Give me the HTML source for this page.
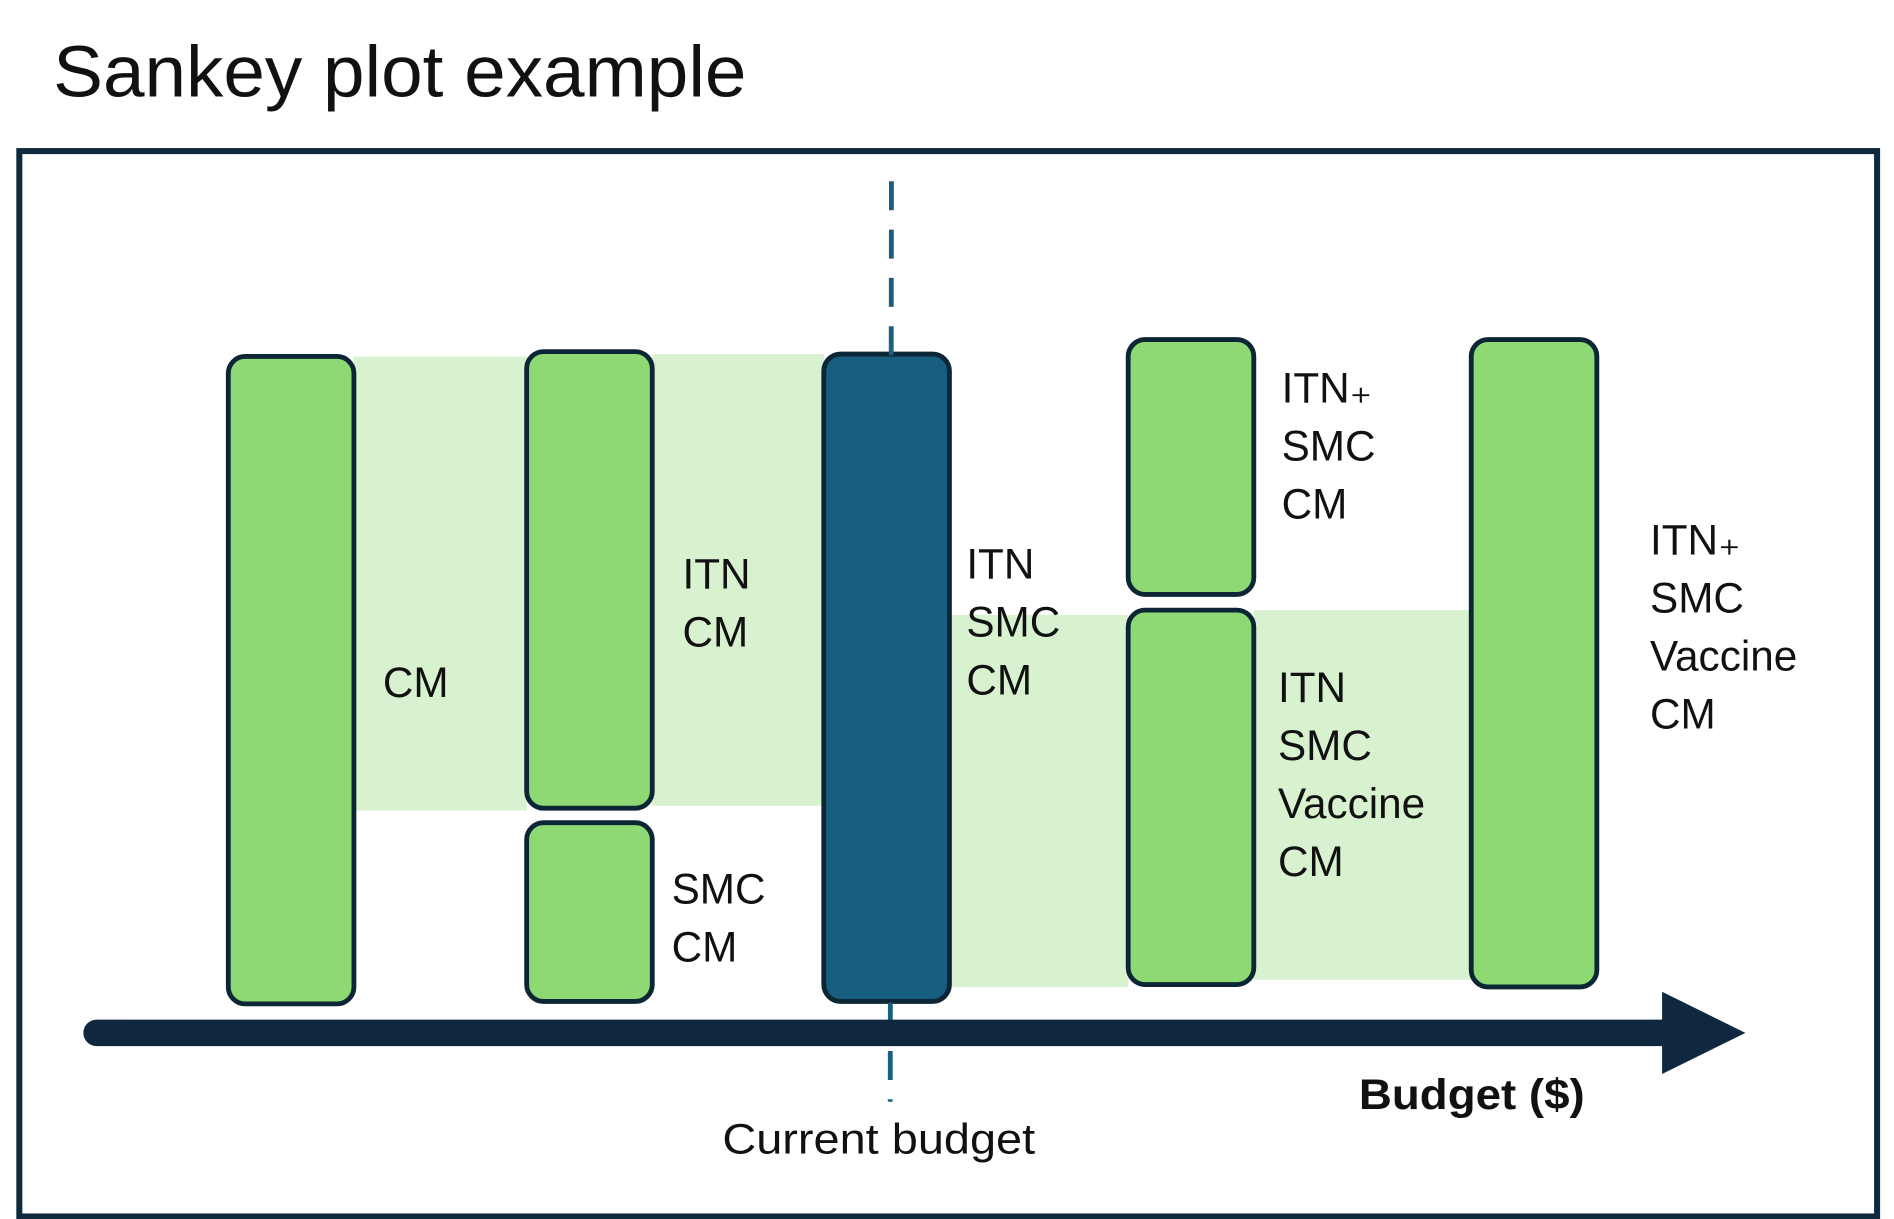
<!DOCTYPE html>
<html><head><meta charset="utf-8"><style>
html,body{margin:0;padding:0;background:#fff;width:1894px;height:1219px;overflow:hidden}
svg text{font-family:"Liberation Sans",sans-serif}
</style></head><body>
<svg id="chart" width="1894" height="1219" viewBox="0 0 1568 1009" xmlns="http://www.w3.org/2000/svg">
<text x="44" y="80" font-size="60" textLength="574" lengthAdjust="spacingAndGlyphs" fill="#111" style="font-family:'Liberation Sans Narrow','Liberation Sans',sans-serif">Sankey plot example</text>
<rect x="16" y="125" width="1538" height="882" fill="none" stroke="#0f2a3d" stroke-width="5"/>
<g id="flows"></g>
<g id="bars"></g>
<g id="labels"></g>
<line x1="738" y1="150" x2="737" y2="912" stroke="#1a5f80" stroke-width="4" stroke-dasharray="24,16"/>
<line x1="80" y1="855" x2="1385" y2="855" stroke="#10283f" stroke-width="22" stroke-linecap="round"/>
<polygon points="1376,821 1445,855 1376,889" fill="#10283f"/>
<text x="1125" y="918" font-size="35" font-weight="bold" fill="#111" textLength="187" lengthAdjust="spacingAndGlyphs">Budget ($)</text>
<text x="598" y="955" font-size="35" fill="#111" textLength="259" lengthAdjust="spacingAndGlyphs">Current budget</text>
</svg>
<script>
// budget level of each column
const columnBudget = [0, 247, 493, 745, 1029];
// bars: column, bottom value, top value (coverage units)
const barColumn = [0, 1, 1, 2, 3, 3, 4];
const barLow    = [0, 162, 2, 2, 339, 16, 14];
const barHigh   = [536, 540, 150, 538, 550, 326, 550];
const barDark   = [false, false, false, true, false, false, false];
const barNames  = ['bar-cm','bar-itn-cm','bar-smc-cm','bar-current-itn-smc-cm','bar-itn-plus-smc-cm','bar-itn-smc-vaccine-cm','bar-itn-plus-smc-vaccine-cm'];
// flows: from column, to column, low value, high value
const flowFrom = [0, 1, 2, 3];
const flowTo   = [1, 2, 3, 4];
const flowLow  = [160, 164, 14, 20];
const flowHigh = [536, 538, 322, 326];
// labels
const labelLines = [['CM'],['ITN','CM'],['SMC','CM'],['ITN','SMC','CM'],['ITN₊','SMC','CM'],['ITN','SMC','Vaccine','CM'],['ITN₊','SMC','Vaccine','CM']];
const labelValue = [254, 344, 83, 352, 498, 250, 372];

const colX = c => 189 + columnBudget[c];
const barW = 104;
const yS = v => 831 - v;
const NS = 'http://www.w3.org/2000/svg';
const fl = document.getElementById('flows');
flowFrom.forEach((f, i) => {
  const r = document.createElementNS(NS, 'rect');
  
  
  const x0 = colX(f) + barW, x1 = colX(flowTo[i]);
  r.setAttribute('x', x0); r.setAttribute('width', x1 - x0);
  r.setAttribute('y', yS(flowHigh[i])); r.setAttribute('height', flowHigh[i] - flowLow[i]);
  r.setAttribute('fill', '#d8f2d0');
  fl.appendChild(r);
});
const bg = document.getElementById('bars');
barColumn.forEach((c, i) => {
  const r = document.createElementNS(NS, 'rect');
  
  
  r.setAttribute('x', colX(c)); r.setAttribute('width', barW);
  r.setAttribute('y', yS(barHigh[i])); r.setAttribute('height', barHigh[i] - barLow[i]);
  r.setAttribute('rx', 14);
  r.setAttribute('fill', barDark[i] ? '#175e80' : '#8fd975');
  r.setAttribute('stroke', '#0c2636'); r.setAttribute('stroke-width', 4);
  bg.appendChild(r);
});
const lg = document.getElementById('labels');
const labelDx = [128, 129, 120, 118, 127, 124, 148];
labelLines.forEach((lines, i) => {
  const t = document.createElementNS(NS, 'text');
  
  
  t.setAttribute('font-size', '35'); t.setAttribute('fill', '#111');
  const x = colX(barColumn[i]) + labelDx[i];
  const yTop = yS(labelValue[i]);
  lines.forEach((s, j) => {
    const ts = document.createElementNS(NS, 'tspan');
    ts.setAttribute('x', x); ts.setAttribute('y', yTop + j * 48);
    ts.textContent = s;
    t.appendChild(ts);
  });
  lg.appendChild(t);
});
</script>
</body></html>
